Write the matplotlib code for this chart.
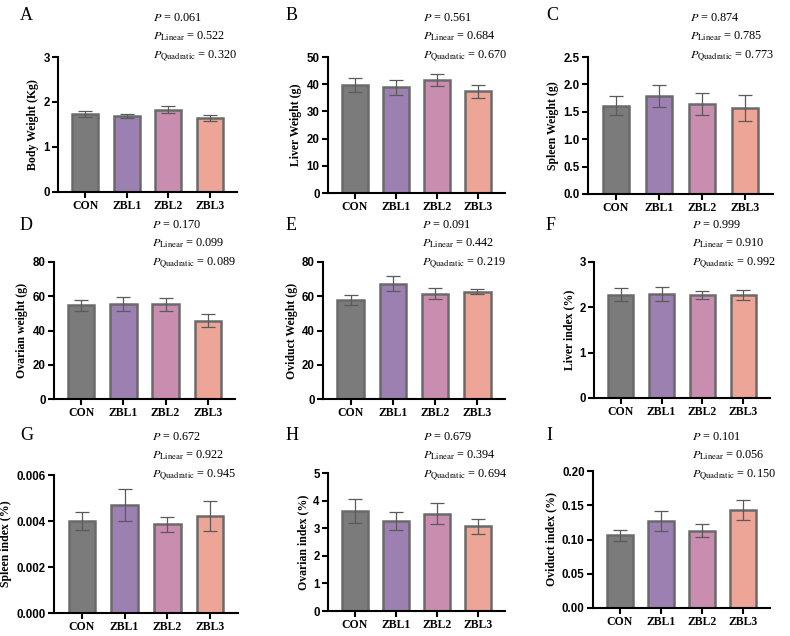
import matplotlib
matplotlib.use("Agg")
import matplotlib.pyplot as plt

plt.rcParams['mathtext.fontset'] = 'stix'

groups = ["CON", "ZBL1", "ZBL2", "ZBL3"]
colors = ["#7b7b7b", "#9c80b2", "#c98db0", "#eda597"]

letters = ["A", "B", "C", "D", "E", "F", "G", "H", "I"]
ylabels = ["Body Weight (Kg)", "Liver Weight (g)", "Spleen Weight (g)",
           "Ovarian weight (g)", "Oviduct Weight (g)", "Liver index (%)",
           "Spleen index (%)", "Ovarian index (%)", "Oviduct index (%)"]

body_w = [1.73, 1.69, 1.83, 1.64]
body_e = [0.06, 0.05, 0.07, 0.06]
liver_w = [39.7, 38.9, 41.7, 37.4]
liver_e = [2.4, 2.7, 2.2, 2.3]
spleen_w = [1.61, 1.79, 1.65, 1.57]
spleen_e = [0.17, 0.20, 0.20, 0.23]
ovary_w = [54.7, 55.4, 55.2, 45.7]
ovary_e = [3.3, 4.2, 3.6, 3.8]
oviduct_w = [57.7, 67.4, 61.6, 62.7]
oviduct_e = [2.8, 4.2, 3.1, 1.4]
liver_i = [2.28, 2.29, 2.27, 2.27]
liver_ie = [0.15, 0.16, 0.08, 0.11]
spleen_i = [0.00401, 0.00470, 0.00386, 0.00422]
spleen_ie = [0.00040, 0.00068, 0.00033, 0.00066]
ovary_i = [3.62, 3.25, 3.53, 3.07]
ovary_ie = [0.43, 0.33, 0.38, 0.28]
oviduct_i = [0.106, 0.127, 0.113, 0.143]
oviduct_ie = [0.008, 0.014, 0.009, 0.014]

means = [body_w, liver_w, spleen_w, ovary_w, oviduct_w, liver_i, spleen_i, ovary_i, oviduct_i]
errs = [body_e, liver_e, spleen_e, ovary_e, oviduct_e, liver_ie, spleen_ie, ovary_ie, oviduct_ie]

p_all = ["0.061", "0.561", "0.874", "0.170", "0.091", "0.999", "0.672", "0.679", "0.101"]
p_lin = ["0.522", "0.684", "0.785", "0.099", "0.442", "0.910", "0.922", "0.394", "0.056"]
p_quad = ["0.320", "0.670", "0.773", "0.089", "0.219", "0.992", "0.945", "0.694", "0.150"]

yticks = [[0, 1, 2, 3], [0, 10, 20, 30, 40, 50], [0.0, 0.5, 1.0, 1.5, 2.0, 2.5],
          [0, 20, 40, 60, 80], [0, 20, 40, 60, 80], [0, 1, 2, 3],
          [0.000, 0.002, 0.004, 0.006], [0, 1, 2, 3, 4, 5], [0.00, 0.05, 0.10, 0.15, 0.20]]
yfmt = ["{:.0f}", "{:.0f}", "{:.1f}", "{:.0f}", "{:.0f}", "{:.0f}", "{:.3f}", "{:.0f}", "{:.2f}"]

W, H = 790, 636
# axes pixel boxes: left, top, right, bottom
boxes = [(58, 57, 237, 192), (328, 57, 505, 193), (588, 57, 773, 194),
         (54, 262, 235, 399), (323, 262, 505, 399), (594, 262, 770, 398),
         (54, 475, 238, 613), (328, 473, 505, 611), (593, 471, 770, 608)]
letter_pos = [(20, 15), (286, 15), (546, 15), (20, 225), (286, 225), (546, 225),
              (20, 435), (286, 435), (546, 435)]
ptext_x = [153, 423, 690, 152, 422, 692, 152, 423, 692]
ptext_y0 = [18, 18, 18, 225, 225, 225, 437, 437, 437]

fig = plt.figure(figsize=(W / 100, H / 100), dpi=100)
serif = "Liberation Serif"
sans = "Liberation Sans"

for i in range(9):
    l, t, r, b = boxes[i]
    ax = fig.add_axes([l / W, 1 - b / H, (r - l) / W, (b - t) / H])
    x = range(4)
    ax.bar(x, means[i], width=0.62, color=colors, edgecolor="#6a6a6a", linewidth=1.8, zorder=2)
    ax.errorbar(x, means[i], yerr=errs[i], fmt="none", ecolor="#5a5a5a",
                elinewidth=0.9, capsize=5, capthick=0.9, zorder=3)
    ax.set_xlim(-0.65, 3.65)
    ax.set_ylim(yticks[i][0], yticks[i][-1])
    ax.set_yticks(yticks[i])
    ax.set_yticklabels([yfmt[i].format(v) for v in yticks[i]], fontfamily=sans,
                       fontweight="bold", fontsize=8.3)
    ax.set_xticks(list(x))
    ax.set_xticklabels(groups, fontfamily=serif, fontweight="bold", fontsize=8.5)
    ax.set_ylabel(ylabels[i], fontfamily=serif, fontweight="bold", fontsize=8.5, labelpad=3)
    for s in ["top", "right"]:
        ax.spines[s].set_visible(False)
    for s in ["left", "bottom"]:
        ax.spines[s].set_linewidth(1.5)
    ax.tick_params(axis="both", width=1.5, length=4, pad=2)
    ax.patch.set_alpha(0)

    lx, ly = letter_pos[i]
    fig.text(lx / W, 1 - ly / H, letters[i], fontfamily=serif, fontsize=13,
             ha="left", va="center")
    px = ptext_x[i] / W
    py = ptext_y0[i]
    fig.text(px, 1 - py / H, r"$P$ = " + p_all[i], fontfamily=serif, fontsize=8.8,
             ha="left", va="center")
    fig.text(px, 1 - (py + 18.5) / H, r"$P_{\mathrm{Linear}}$ = " + p_lin[i],
             fontfamily=serif, fontsize=8.8, ha="left", va="center")
    fig.text(px, 1 - (py + 37.5) / H, r"$P_{\mathrm{Quadratic}}$ = " + p_quad[i],
             fontfamily=serif, fontsize=8.8, ha="left", va="center")

fig.savefig("out.png", dpi=100)
